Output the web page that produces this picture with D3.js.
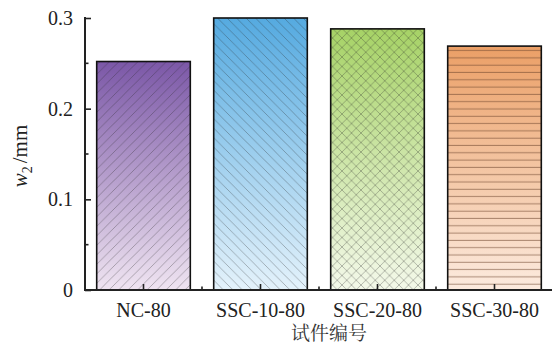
<!DOCTYPE html>
<html>
<head>
<meta charset="utf-8">
<script src="https://cdn.jsdelivr.net/npm/d3@7"></script>
<style>
  html, body { margin: 0; padding: 0; background: #fff; }
  svg { display: block; }
</style>
</head>
<body>
<svg id="chart" width="552" height="347"></svg>
<script>
// Specimen IDs and measured crack width w2 (mm)
const categories = ["NC-80", "SSC-10-80", "SSC-20-80", "SSC-30-80"];
const values = [0.252, 0.300, 0.288, 0.269];
const yTicks = [0, 0.1, 0.2, 0.3];
const xTitle = "试件编号";

// Fill gradients (top, bottom) and hatch styles per bar
const gradTop = ["#7b57a7", "#55aae0", "#a6d266", "#eb9f66"];
const gradBottom = ["#efe4f1", "#e4f2fb", "#f4f9ea", "#fcebdf"];
const hatchKinds = ["slash", "backslash", "cross", "horizontal"];

const svg = d3.select("#chart");
const W = 552, H = 347;
const margin = { left: 85, right: -1, top: 18, bottom: 57 };
const x0 = margin.left, x1 = W - margin.right;
const yBase = H - margin.bottom; // 290

const x = d3.scaleBand().domain(categories).range([x0, x1]).paddingInner(0.2).paddingOuter(0.1);
const y = d3.scaleLinear().domain([0, 0.3]).range([yBase, margin.top]);

const defs = svg.append("defs");

categories.forEach((c, i) => {
  const g = defs.append("linearGradient")
    .attr("id", "grad" + i)
    .attr("x1", 0).attr("y1", 0).attr("x2", 0).attr("y2", 1);
  g.append("stop").attr("offset", "0%").attr("stop-color", gradTop[i]);
  g.append("stop").attr("offset", "100%").attr("stop-color", gradBottom[i]);
});

function makePattern(id, kind) {
  const s = kind === "horizontal" ? 7.3 : 9.5;
  const p = defs.append("pattern")
    .attr("id", id)
    .attr("patternUnits", "userSpaceOnUse")
    .attr("width", s).attr("height", s);
  const st = { stroke: "rgba(40,40,40,0.42)", "stroke-width": 0.75, fill: "none" };
  const add = d => {
    const path = p.append("path").attr("d", d);
    Object.entries(st).forEach(([k, v]) => path.attr(k, v));
  };
  if (kind === "slash") {
    add(`M0,${s} L${s},0 M${-s/2},${s/2} L${s/2},${-s/2} M${s/2},${s*1.5} L${s*1.5},${s/2}`);
  } else if (kind === "backslash") {
    add(`M0,0 L${s},${s} M${-s/2},${s/2} L${s/2},${s*1.5} M${s/2},${-s/2} L${s*1.5},${s/2}`);
  } else if (kind === "cross") {
    add(`M0,${s} L${s},0 M${-s/2},${s/2} L${s/2},${-s/2} M${s/2},${s*1.5} L${s*1.5},${s/2}`);
    add(`M0,0 L${s},${s} M${-s/2},${s/2} L${s/2},${s*1.5} M${s/2},${-s/2} L${s*1.5},${s/2}`);
  } else {
    p.append("line").attr("x1", 0).attr("x2", s).attr("y1", s - 0.5).attr("y2", s - 0.5)
      .attr("stroke", "rgba(110,70,45,0.55)").attr("stroke-width", 1.1);
  }
}
hatchKinds.forEach((k, i) => makePattern("hatch" + i, k));

const bars = svg.append("g").selectAll("g")
  .data(categories.map((c, i) => ({ c, v: values[i], i })))
  .join("g");

bars.append("rect")
  .attr("x", d => x(d.c))
  .attr("y", d => y(d.v))
  .attr("width", x.bandwidth())
  .attr("height", d => yBase - y(d.v))
  .attr("fill", d => `url(#grad${d.i})`);

bars.append("rect")
  .attr("x", d => x(d.c))
  .attr("y", d => y(d.v))
  .attr("width", x.bandwidth())
  .attr("height", d => yBase - y(d.v))
  .attr("fill", d => `url(#hatch${d.i})`)
  .attr("stroke", "#111")
  .attr("stroke-width", 1.6);

const serif = "'Liberation Serif', 'Times New Roman', serif";

// Y axis with inward ticks and minor ticks
const yAxis = d3.axisLeft(y).tickValues(yTicks).tickSize(-6).tickPadding(12)
  .tickFormat(d => d === 0 ? "0" : d3.format(".1f")(d));
const gy = svg.append("g").attr("transform", `translate(${x0},0)`).call(yAxis);
gy.select(".domain").attr("d", `M0,${y(0.3) - 1}V${yBase}`).attr("stroke", "#222").attr("stroke-width", 2);
gy.selectAll(".tick line").attr("stroke", "#222").attr("stroke-width", 1.6);
gy.selectAll(".tick text").attr("font-family", serif).attr("font-size", 20).attr("fill", "#222");
const minorY = [0.05, 0.15, 0.25];
gy.selectAll(".minor").data(minorY).join("line")
  .attr("x1", 0).attr("x2", 3.5).attr("y1", d => y(d)).attr("y2", d => y(d))
  .attr("stroke", "#222").attr("stroke-width", 1.6);

// X axis with inward ticks at bar centres and between bars
const xAxis = d3.axisBottom(x).tickSize(-6).tickPadding(14).tickSizeOuter(0);
const gx = svg.append("g").attr("transform", `translate(0,${yBase})`).call(xAxis);
gx.select(".domain").attr("d", `M${x0 - 1},0H${x1}`).attr("stroke", "#222").attr("stroke-width", 2);
gx.selectAll(".tick line").attr("stroke", "#222").attr("stroke-width", 1.6);
gx.selectAll(".tick text").attr("font-family", serif).attr("font-size", 20).attr("fill", "#222")
  .attr("dy", "0.65em");
const between = categories.slice(1).map(c => x(c) - x.step() * x.paddingInner() / 2);
gx.selectAll(".minor").data(between).join("line")
  .attr("x1", d => d).attr("x2", d => d).attr("y1", 0).attr("y2", -3.5)
  .attr("stroke", "#222").attr("stroke-width", 1.6);

// Axis titles
svg.append("text")
  .attr("x", 329).attr("y", 340)
  .attr("text-anchor", "middle")
  .attr("font-family", "'Noto Serif CJK SC', 'Noto Sans CJK SC', sans-serif")
  .attr("font-size", 19).attr("fill", "#333")
  .text(xTitle);

const yl = svg.append("text")
  .attr("transform", "translate(27,156) rotate(-90)")
  .attr("text-anchor", "middle")
  .attr("font-family", serif).attr("font-size", 21).attr("fill", "#222");
yl.append("tspan").attr("font-style", "italic").text("w");
yl.append("tspan").attr("font-size", 14).attr("dy", 5).text("2");
yl.append("tspan").attr("dy", -5).attr("dx", 3).text("/mm");
</script>
</body>
</html>
